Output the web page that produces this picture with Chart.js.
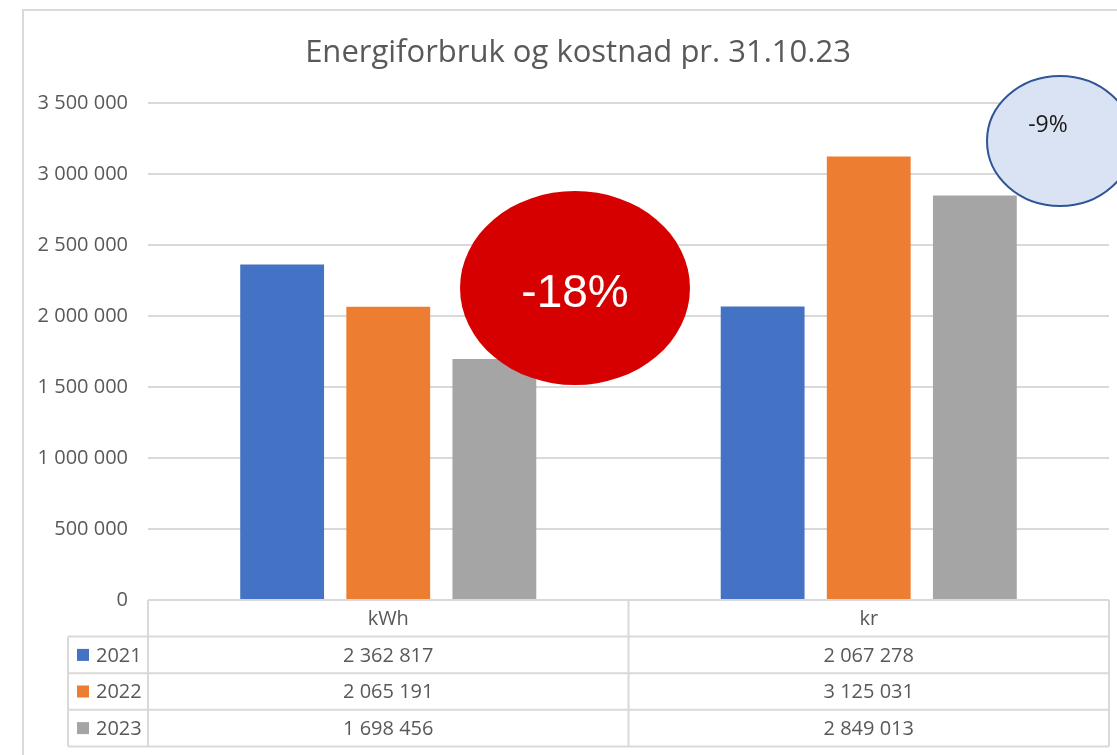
<!DOCTYPE html>
<html>
<head>
<meta charset="utf-8">
<script src="https://cdn.jsdelivr.net/npm/chart.js@4/dist/chart.umd.min.js"></script>
<style>
  html, body { margin: 0; padding: 0; background: #ffffff; }
  canvas { display: block; }
</style>
</head>
<body>
<canvas id="c" width="1117" height="755"></canvas>
<script>
// ---- Data ----
const titleText = 'Energiforbruk og kostnad pr. 31.10.23';
const categories = ['kWh', 'kr'];
const years = ['2021', '2022', '2023'];
const values2021 = [2362817, 2067278];
const values2022 = [2065191, 3125031];
const values2023 = [1698456, 2849013];
const yTickMin = 0;
const yTickMax = 3500000;
const yTickStep = 500000;
const changeKwh = '-18%';
const changeKr = '-9%';

const seriesColors = ['#4472C4', '#ED7D31', '#A5A5A5'];
const seriesValues = [values2021, values2022, values2023];

function fmt(v) {
  return String(v).replace(/\B(?=(\d{3})+(?!\d))/g, ' ');
}

const TEXT = '#595959';
const LINE = '#D9D9D9';
const FONT = "'Open Sans', 'DejaVu Sans', sans-serif";

const framePlugin = {
  id: 'frame',
  afterLayout(chart) {
    // centre the title over the framed chart (frame starts at x=23)
    if (chart.titleBlock) { chart.titleBlock.left = 47; }
  },
  beforeDraw(chart) {
    const ctx = chart.ctx;
    ctx.save();
    ctx.fillStyle = '#ffffff';
    ctx.fillRect(0, 0, chart.width, chart.height);
    ctx.strokeStyle = LINE;
    ctx.lineWidth = 2;
    ctx.strokeRect(23, 10, 1300, 900);
    ctx.restore();
  }
};

const tablePlugin = {
  id: 'dataTable',
  afterDraw(chart) {
    const ctx = chart.ctx;
    const area = chart.chartArea;
    const xs = chart.scales.x;
    const top = area.bottom;
    const rowH = 36.6;
    const legendLeft = 68;
    const left = area.left, right = area.right;
    const n = categories.length;
    const colW = (right - left) / n;

    ctx.save();
    ctx.strokeStyle = LINE;
    ctx.lineWidth = 2;
    ctx.beginPath();
    ctx.moveTo(left, top); ctx.lineTo(right, top);
    for (let r = 1; r <= years.length + 1; r++) {
      const y = top + r * rowH;
      ctx.moveTo(legendLeft, y); ctx.lineTo(right, y);
    }
    const bottom = top + (years.length + 1) * rowH;
    ctx.moveTo(legendLeft, top + rowH); ctx.lineTo(legendLeft, bottom);
    for (let i = 0; i <= n; i++) {
      const x = left + i * colW;
      ctx.moveTo(x, top); ctx.lineTo(x, bottom);
    }
    ctx.stroke();

    ctx.fillStyle = TEXT;
    ctx.font = '20px ' + FONT;
    ctx.textBaseline = 'middle';
    ctx.textAlign = 'center';
    categories.forEach((c, i) => {
      const cx = xs.getPixelForValue(i);
      ctx.fillText(c, cx, top + rowH / 2 + 1);
    });
    years.forEach((yr, r) => {
      const cy = top + (r + 1) * rowH + rowH / 2 + 1;
      ctx.fillStyle = seriesColors[r];
      ctx.fillRect(77, cy - 7, 12, 12);
      ctx.fillStyle = TEXT;
      ctx.textAlign = 'left';
      ctx.fillText(yr, 96, cy);
      ctx.textAlign = 'center';
      seriesValues[r].forEach((v, i) => {
        ctx.fillText(fmt(v), xs.getPixelForValue(i), cy);
      });
    });
    ctx.restore();

    // annotation ellipses
    ctx.save();
    ctx.beginPath();
    ctx.ellipse(575, 288, 115, 97, 0, 0, Math.PI * 2);
    ctx.fillStyle = '#D70000';
    ctx.fill();
    ctx.fillStyle = '#ffffff';
    ctx.font = "46px 'Liberation Sans', Arial, sans-serif";
    ctx.textAlign = 'center';
    ctx.textBaseline = 'alphabetic';
    ctx.fillText(changeKwh, 575, 307);

    ctx.beginPath();
    ctx.ellipse(1060, 141, 73, 65, 0, 0, Math.PI * 2);
    ctx.fillStyle = '#DAE3F3';
    ctx.fill();
    ctx.strokeStyle = '#2F5597';
    ctx.lineWidth = 2;
    ctx.stroke();
    ctx.fillStyle = '#1a1a1a';
    ctx.font = "23px " + FONT;
    ctx.fillText(changeKr, 1048, 132);
    ctx.restore();
  }
};

new Chart(document.getElementById('c'), {
  type: 'bar',
  data: {
    labels: categories,
    datasets: years.map((yr, i) => ({
      label: yr,
      data: seriesValues[i],
      backgroundColor: seriesColors[i],
      borderWidth: 0,
      categoryPercentage: 0.6625,
      barPercentage: 0.79
    }))
  },
  options: {
    responsive: false,
    animation: false,
    devicePixelRatio: 1,
    layout: { padding: { left: 0, right: 8, top: 0, bottom: 155 } },
    plugins: {
      legend: { display: false },
      tooltip: { enabled: false },
      title: {
        display: true,
        text: titleText,
        color: TEXT,
        font: { family: FONT, size: 31, weight: 'normal', lineHeight: 1.2 },
        padding: { top: 35, bottom: 31 }
      }
    },
    scales: {
      x: { display: false },
      y: {
        min: yTickMin,
        max: yTickMax,
        afterFit(axis) { axis.width = 148; },
        ticks: {
          stepSize: yTickStep,
          color: TEXT,
          padding: 20,
          font: { family: FONT, size: 20 },
          callback: (v) => fmt(v)
        },
        grid: { color: LINE, lineWidth: 2, drawTicks: false },
        border: { display: false }
      }
    }
  },
  plugins: [framePlugin, tablePlugin]
});
</script>
</body>
</html>
